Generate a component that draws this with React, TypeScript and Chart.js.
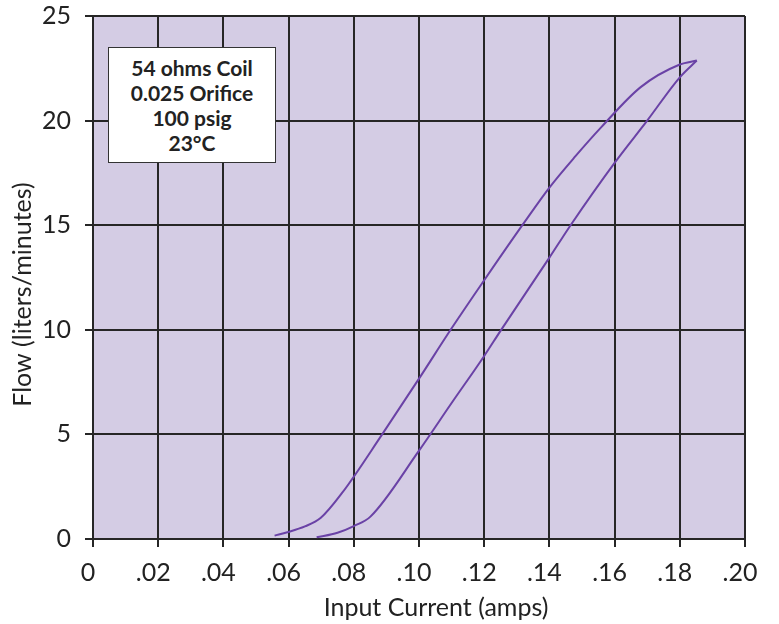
import React, { useEffect, useRef } from "react";
import { Chart, registerables } from "chart.js";

Chart.register(...registerables);

// Increasing-current branch (lower curve)
const lowerAmps = [0.0686, 0.075, 0.080, 0.0851, 0.0999, 0.110, 0.120, 0.125, 0.140, 0.1465, 0.160, 0.170, 0.180, 0.1852];
const lowerFlow = [0.08, 0.3, 0.62, 1.07, 4.2, 6.5, 8.75, 9.95, 13.45, 15.0, 17.98, 20.0, 22.07, 22.87];

// Decreasing-current branch (upper curve)
const upperAmps = [0.0557, 0.0596, 0.065, 0.0698, 0.0764, 0.0887, 0.0999, 0.1097, 0.120, 0.1317, 0.140, 0.148, 0.156, 0.168, 0.180, 0.1852];
const upperFlow = [0.16, 0.32, 0.6, 1.0, 2.2, 5.0, 7.64, 10.0, 12.37, 15.0, 16.8, 18.3, 19.7, 21.6, 22.68, 22.87];

const xTicks = [0, 0.02, 0.04, 0.06, 0.08, 0.1, 0.12, 0.14, 0.16, 0.18, 0.2];
const xTickLabels = ["0", ".02", ".04", ".06", ".08", ".10", ".12", ".14", ".16", ".18", ".20"];
const yTicks = [0, 5, 10, 15, 20, 25];

const xTitle = "Input Current (amps)";
const yTitle = "Flow (liters/minutes)";
const noteLines = ["54 ohms Coil", "0.025 Orifice", "100 psig", "23°C"];

const FONT = "Lato, 'Open Sans', sans-serif";
const LINE = "#6a42a6";
const GRID = "#262626";
const PLOT_BG = "#d4cce4";

export default function App() {
  const ref = useRef<HTMLCanvasElement | null>(null);

  useEffect(() => {
    if (!ref.current) return;
    const bgPlugin = {
      id: "bg",
      beforeDraw(chart: any) {
        const { ctx, chartArea: a } = chart;
        ctx.save();
        ctx.fillStyle = PLOT_BG;
        ctx.fillRect(a.left, a.top, a.right - a.left, a.bottom - a.top);
        ctx.restore();
      },
      afterDraw(chart: any) {
        const { ctx, chartArea: a } = chart;
        ctx.save();
        ctx.fillStyle = "#222";
        ctx.font = `25px ${FONT}`;
        ctx.textAlign = "center";
        ctx.textBaseline = "middle";
        ctx.fillText(xTitle, (a.left + a.right) / 2 + 17, 608);
        ctx.translate(23, (a.top + a.bottom) / 2 + 17);
        ctx.rotate(-Math.PI / 2);
        ctx.fillText(yTitle, 0, 0);
        ctx.restore();
      },
    };

    const chart = new Chart(ref.current, {
      type: "scatter",
      data: {
        datasets: [
          {
            data: lowerAmps.map((x, i) => ({ x, y: lowerFlow[i] })),
            showLine: true,
            borderColor: LINE,
            borderWidth: 2,
            pointRadius: 0,
            cubicInterpolationMode: "monotone",
          },
          {
            data: upperAmps.map((x, i) => ({ x, y: upperFlow[i] })),
            showLine: true,
            borderColor: LINE,
            borderWidth: 2,
            pointRadius: 0,
            cubicInterpolationMode: "monotone",
          },
        ],
      },
      options: {
        animation: false,
        responsive: true,
        maintainAspectRatio: false,
        layout: { padding: { top: 16, left: 8, right: 34, bottom: 0 } },
        plugins: { legend: { display: false }, tooltip: { enabled: false }, title: { display: false } },
        scales: {
          x: {
            type: "linear",
            min: 0,
            max: 0.2,
            afterBuildTicks: (scale: any) => {
              scale.ticks = xTicks.map((v) => ({ value: v }));
            },
            afterFit: (scale: any) => {
              scale.height = 85;
              scale.paddingLeft = 0;
              scale.paddingRight = 0;
            },
            ticks: {
              color: "#222",
              font: { family: FONT, size: 25 },
              padding: 11,
              labelOffset: -5,
              maxRotation: 0,
              autoSkip: false,
              callback: (v: any) => {
                const i = xTicks.findIndex((t) => Math.abs(t - Number(v)) < 1e-9);
                return i >= 0 ? xTickLabels[i] : "";
              },
            },
            grid: { color: GRID, lineWidth: 2, tickLength: 8, drawTicks: true },
            border: { color: GRID, width: 2 },
          },
          y: {
            type: "linear",
            min: 0,
            max: 25,
            afterBuildTicks: (scale: any) => {
              scale.ticks = yTicks.map((v) => ({ value: v }));
            },
            afterFit: (scale: any) => {
              scale.width = 85;
              scale.paddingTop = 0;
              scale.paddingBottom = 0;
            },
            ticks: {
              color: "#222",
              font: { family: FONT, size: 25 },
              padding: 14,
              autoSkip: false,
            },
            grid: { color: GRID, lineWidth: 2, tickLength: 8, drawTicks: true },
            border: { color: GRID, width: 2 },
          },
        },
      },
      plugins: [bgPlugin],
    } as any);
    return () => chart.destroy();
  }, []);

  return (
    <div style={{ position: "absolute", left: 0, top: 0, width: 779, height: 624, background: "#fff" }}>
      <canvas ref={ref} />
      <div
        style={{
          position: "absolute",
          left: 108,
          top: 47,
          width: 166,
          height: 107,
          border: "1.5px solid #333",
          background: "#fff",
          boxSizing: "content-box",
          fontFamily: FONT,
          fontWeight: "bold",
          fontSize: 21,
          lineHeight: "25px",
          color: "#222",
          textAlign: "center",
          paddingTop: 7,
        }}
      >
        {noteLines.map((t) => (
          <div key={t}>{t}</div>
        ))}
      </div>
    </div>
  );
}
